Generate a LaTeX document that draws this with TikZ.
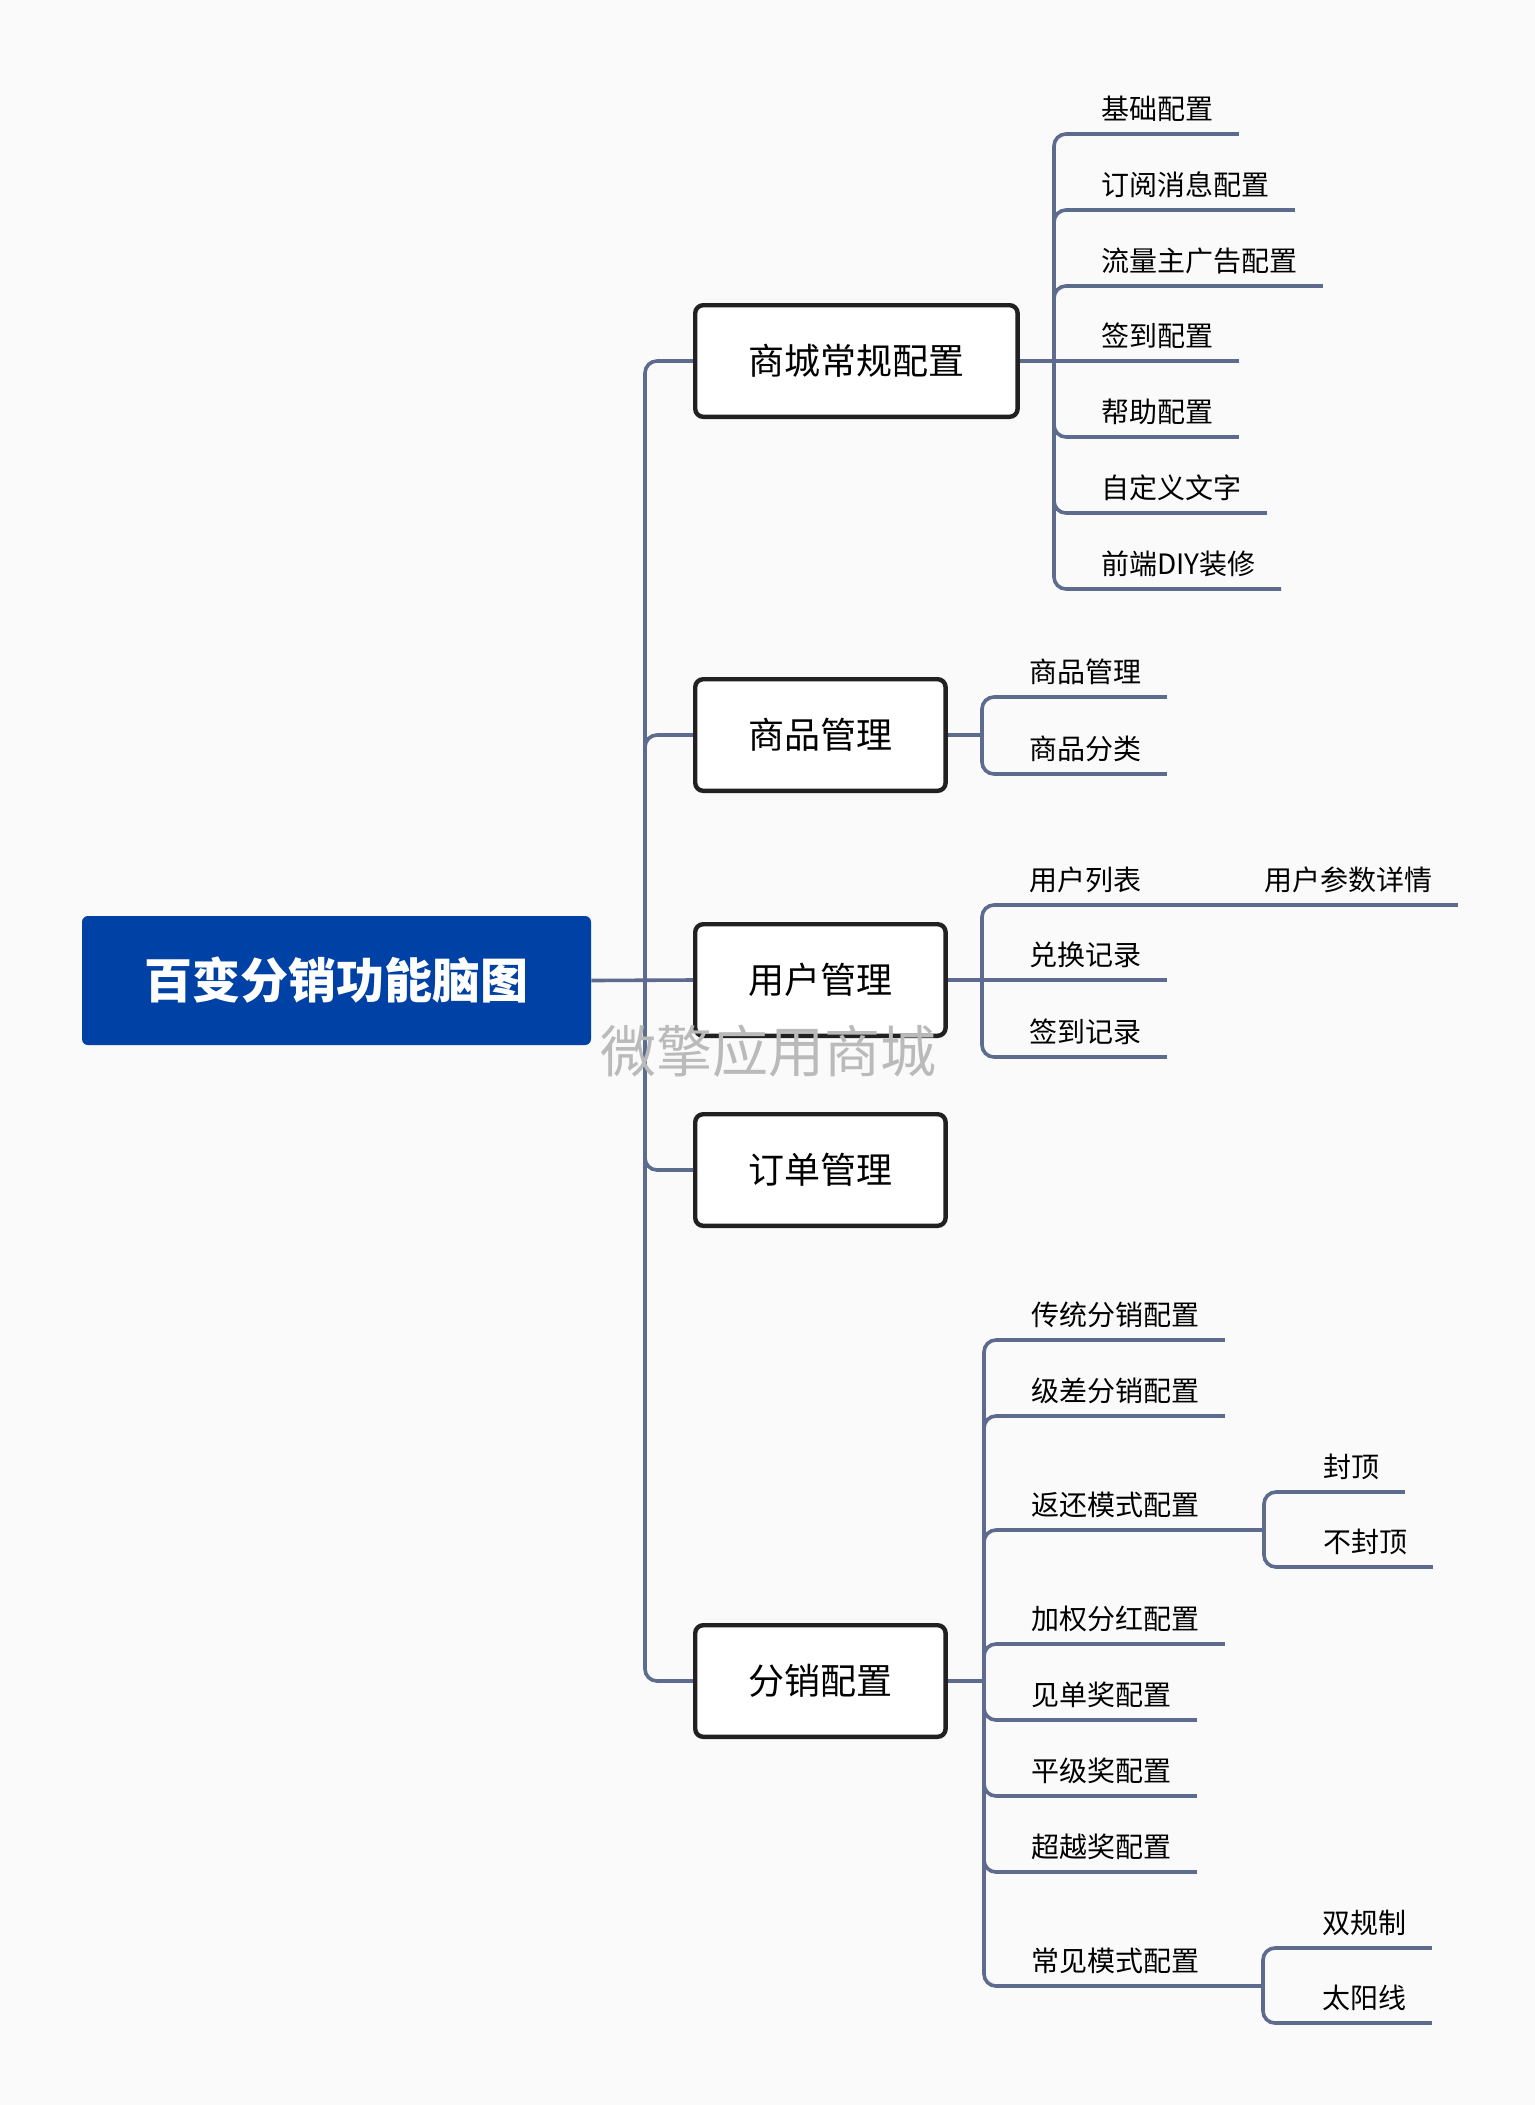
\documentclass[tikz,border=0pt]{standalone}
\usepackage{fontspec}
\setmainfont{Noto Sans CJK SC}
\usepackage{tikz}

\definecolor{rootblue}{RGB}{0,65,165}
\definecolor{linkgray}{RGB}{92,107,142}
\definecolor{paper}{RGB}{250,250,250}
\definecolor{markgray}{RGB}{186,186,186}

\begin{document}
\begin{tikzpicture}[x=0.5pt, y=-0.5pt,
    link/.style={draw=linkgray, line width=1.8pt, rounded corners=6pt},
    topic/.style={draw=black!87, fill=white, line width=2.2pt, rounded corners=4pt,
      font=\fontsize{18}{18}\selectfont, minimum height=55.8pt, inner xsep=26.6pt, anchor=west},
    leaf/.style={font=\fontsize{14}{14}\selectfont, anchor=south west,
      inner xsep=12.5pt, inner ysep=5pt, text height=11pt, text depth=2pt}]
  \fill[paper] (0,0) rectangle (1535,2105);

  \node[fill=rootblue, text=white, rounded corners=3pt, minimum width=254.5pt, minimum height=64.5pt,
        font=\fontsize{24}{24}\selectfont\bfseries] (root) at (336.5,980.5) {百变分销功能脑图};

  \node[topic] (sc) at (693,361) {商城常规配置};
  \node[topic] (sp) at (693,735) {商品管理};
  \node[topic] (um) at (693,980) {用户管理};
  \node[topic] (od) at (693,1170) {订单管理};
  \node[topic] (fx) at (693,1681) {分销配置};

  \coordinate (trunk) at (645,980);
  \coordinate (b1) at (1054,361);
  \coordinate (b2) at (982,735);
  \coordinate (b3) at (982,980);
  \coordinate (b5) at (984,1681);
  \coordinate (s1) at (1264,1530);
  \coordinate (s2) at (1263,1986);

  % 商城常规配置
  \node[leaf] (c1) at (1076,134) {基础配置};
  \node[leaf] (c2) at (1076,210) {订阅消息配置};
  \node[leaf] (c3) at (1076,286) {流量主广告配置};
  \node[leaf] (c4) at (1076,361) {签到配置};
  \node[leaf] (c5) at (1076,437) {帮助配置};
  \node[leaf] (c6) at (1076,513) {自定义文字};
  \node[leaf] (c7) at (1076,589) {前端DIY装修};

  % 商品管理
  \node[leaf] (p1) at (1004,697) {商品管理};
  \node[leaf] (p2) at (1004,774) {商品分类};

  % 用户管理
  \node[leaf] (u1) at (1004,905) {用户列表};
  \node[leaf] (u2) at (1004,980) {兑换记录};
  \node[leaf] (u3) at (1004,1057) {签到记录};
  \node[leaf] (u11) at (1239,905) {用户参数详情};

  % 分销配置
  \node[leaf] (f1) at (1006,1340) {传统分销配置};
  \node[leaf] (f2) at (1006,1416) {级差分销配置};
  \node[leaf] (f3) at (1006,1530) {返还模式配置};
  \node[leaf] (f4) at (1006,1644) {加权分红配置};
  \node[leaf] (f5) at (1006,1720) {见单奖配置};
  \node[leaf] (f6) at (1006,1796) {平级奖配置};
  \node[leaf] (f7) at (1006,1872) {超越奖配置};
  \node[leaf] (f8) at (1006,1986) {常见模式配置};
  \node[leaf] (f31) at (1298,1492) {封顶};
  \node[leaf] (f32) at (1298,1567) {不封顶};
  \node[leaf] (f81) at (1297,1948) {双规制};
  \node[leaf] (f82) at (1297,2023) {太阳线};

  \draw[link] (root.east) -- (um.west);
  \draw[link] (trunk) |- (sc.west);
  \draw[link] (trunk) |- (sp.west);
  \draw[link] (trunk) |- (od.west);
  \draw[link] (trunk) |- (fx.west);

  \draw[link] (sc.east) -- (b1);
  \draw[link] (b1) |- (c1.south east);
  \draw[link] (b1) |- (c2.south east);
  \draw[link] (b1) |- (c3.south east);
  \draw[link] (b1) -- (c4.south east);
  \draw[link] (b1) |- (c5.south east);
  \draw[link] (b1) |- (c6.south east);
  \draw[link] (b1) |- (c7.south east);

  \draw[link] (sp.east) -- (b2);
  \draw[link] (b2) |- (p1.south east);
  \draw[link] (b2) |- (p2.south east);

  \draw[link] (um.east) -- (b3);
  \draw[link] (b3) |- (u1.south east);
  \draw[link] (b3) -- (u2.south east);
  \draw[link] (b3) |- (u3.south east);
  \draw[link] (u1.south east) -- (u11.south east);

  \draw[link] (fx.east) -- (b5);
  \draw[link] (b5) |- (f1.south east);
  \draw[link] (b5) |- (f2.south east);
  \draw[link] (b5) |- (f3.south east);
  \draw[link] (b5) |- (f4.south east);
  \draw[link] (b5) |- (f5.south east);
  \draw[link] (b5) |- (f6.south east);
  \draw[link] (b5) |- (f7.south east);
  \draw[link] (b5) |- (f8.south east);
  \draw[link] (f3.south east) -- (s1);
  \draw[link] (s1) |- (f31.south east);
  \draw[link] (s1) |- (f32.south east);
  \draw[link] (f8.south east) -- (s2);
  \draw[link] (s2) |- (f81.south east);
  \draw[link] (s2) |- (f82.south east);

  \node[text=markgray, font=\fontsize{28}{28}\selectfont] (mark) at (768,1051) {微擎应用商城};
\end{tikzpicture}
\end{document}
